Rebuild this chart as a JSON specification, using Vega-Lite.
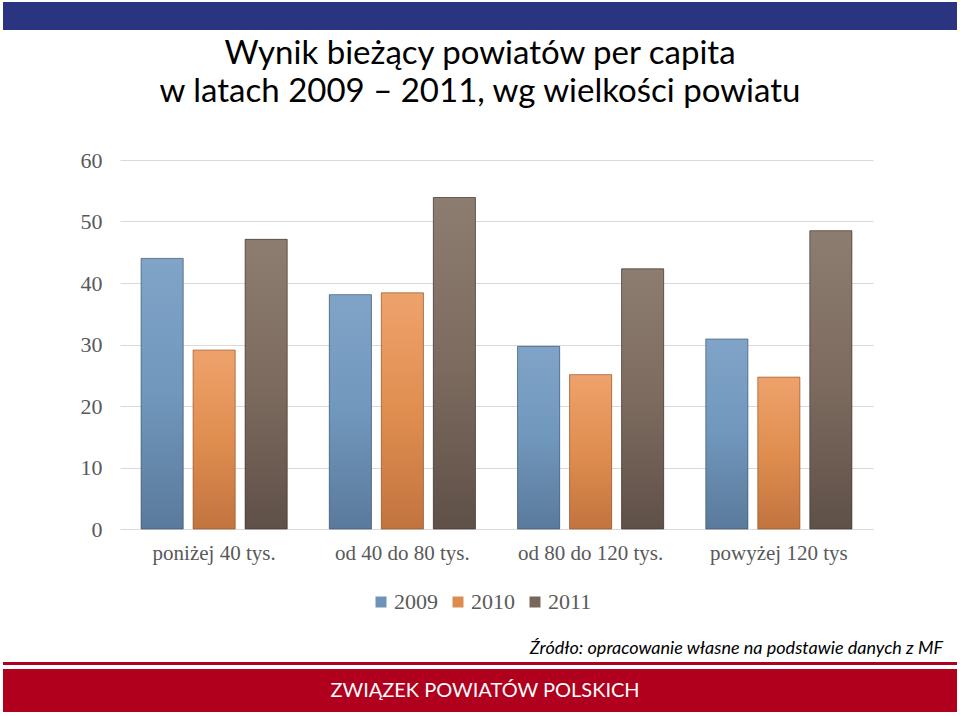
{
  "$schema": "https://vega.github.io/schema/vega-lite/v6.json",
  "background": "white",
  "padding": {"left": 3, "top": 2, "right": 3, "bottom": 3},
  "spacing": 8,
  "resolve": {"scale": {"color": "independent"}, "legend": {"color": "independent"}},
  "config": {"view": {"stroke": null}},
  "vconcat": [
    {
      "width": 954,
      "height": 28,
      "view": {"fill": "#2B3480", "stroke": null},
      "data": {"values": [{"t": ""}]},
      "mark": "text",
      "encoding": {"text": {"field": "t"}}
    },
    {
      "width": 954,
      "height": 369,
      "title": {
        "text": ["Wynik bieżący powiatów per capita", "w latach 2009 – 2011, wg wielkości powiatu"],
        "font": "Lato",
        "fontSize": 33,
        "fontWeight": "normal",
        "lineHeight": 38,
        "color": "#000000",
        "offset": 40,
        "dx": 0,
        "anchor": "middle"
      },
      "data": {
        "values": [
          {"grupa": "poniżej 40 tys.", "rok": "2009", "wartosc": 44.0},
          {"grupa": "poniżej 40 tys.", "rok": "2010", "wartosc": 29.1},
          {"grupa": "poniżej 40 tys.", "rok": "2011", "wartosc": 47.1},
          {"grupa": "od 40 do 80 tys.", "rok": "2009", "wartosc": 38.1},
          {"grupa": "od 40 do 80 tys.", "rok": "2010", "wartosc": 38.4},
          {"grupa": "od 40 do 80 tys.", "rok": "2011", "wartosc": 53.9},
          {"grupa": "od 80 do 120 tys.", "rok": "2009", "wartosc": 29.7},
          {"grupa": "od 80 do 120 tys.", "rok": "2010", "wartosc": 25.1},
          {"grupa": "od 80 do 120 tys.", "rok": "2011", "wartosc": 42.3},
          {"grupa": "powyżej 120 tys", "rok": "2009", "wartosc": 30.9},
          {"grupa": "powyżej 120 tys", "rok": "2010", "wartosc": 24.7},
          {"grupa": "powyżej 120 tys", "rok": "2011", "wartosc": 48.5}
        ]
      },
      "encoding": {
        "x": {
          "field": "grupa",
          "type": "nominal",
          "sort": null,
          "scale": {"range": [117, 870], "paddingInner": 0, "paddingOuter": 0},
          "axis": {
            "title": null,
            "labelAngle": 0,
            "labelFont": "Liberation Serif",
            "labelFontSize": 21,
            "labelColor": "#595959",
            "domain": false,
            "ticks": false,
            "labelPadding": 13
          }
        },
        "xOffset": {
          "field": "rok",
          "type": "nominal",
          "sort": null,
          "scale": {"paddingInner": 0.19, "paddingOuter": 0.405}
        },
        "y": {
          "field": "wartosc",
          "type": "quantitative",
          "scale": {"domain": [0, 60]},
          "axis": {
            "title": null,
            "values": [0, 10, 20, 30, 40, 50, 60],
            "domain": false,
            "ticks": false,
            "offset": -117,
            "minExtent": 0,
            "labelPadding": 18,
            "labelFont": "Liberation Serif",
            "labelFontSize": 22,
            "labelColor": "#595959",
            "gridColor": "#D9D9D9"
          }
        }
      },
      "layer": [
        {
          "mark": {"type": "bar"},
          "encoding": {
            "color": {
              "field": "rok",
              "type": "nominal",
              "scale": {"domain": ["2009", "2010", "2011"], "range": ["#6F93B7", "#DD8B4E", "#77665A"]},
              "legend": {
                "orient": "none",
                "legendX": 349,
                "legendY": 413,
                "padding": 18,
                "direction": "horizontal",
                "columns": 3,
                "gridAlign": "all",
                "title": null,
                "symbolType": "square",
                "symbolSize": 121,
                "symbolStrokeWidth": 0,
                "symbolOpacity": 1,
                "labelFont": "Liberation Serif",
                "labelFontSize": 22,
                "labelColor": "#595959",
                "labelOffset": 2,
                "columnPadding": 9
              }
            }
          }
        },
        {
          "transform": [{"filter": "datum.rok == '2009'"}],
          "mark": {"type": "bar", "stroke": "#3A4F66", "strokeOpacity": 0.6, "strokeWidth": 1,
            "color": {"gradient": "linear", "x1": 0, "y1": 0, "x2": 0, "y2": 1, "stops": [{"offset": 0, "color": "#80A4C8"}, {"offset": 0.5, "color": "#7097BC"}, {"offset": 1, "color": "#5A7A9B"}]}}
        },
        {
          "transform": [{"filter": "datum.rok == '2010'"}],
          "mark": {"type": "bar", "stroke": "#8A5028", "strokeOpacity": 0.6, "strokeWidth": 1,
            "color": {"gradient": "linear", "x1": 0, "y1": 0, "x2": 0, "y2": 1, "stops": [{"offset": 0, "color": "#EEA26B"}, {"offset": 0.5, "color": "#E08E50"}, {"offset": 1, "color": "#C2743F"}]}}
        },
        {
          "transform": [{"filter": "datum.rok == '2011'"}],
          "mark": {"type": "bar", "stroke": "#3F342D", "strokeOpacity": 0.6, "strokeWidth": 1,
            "color": {"gradient": "linear", "x1": 0, "y1": 0, "x2": 0, "y2": 1, "stops": [{"offset": 0, "color": "#8D7C70"}, {"offset": 0.5, "color": "#7D6B5F"}, {"offset": 1, "color": "#5F5048"}]}}
        }
      ]
    },
    {
      "spacing": 0,
      "vconcat": [
        {
          "width": 954,
          "height": 3,
          "view": {"fill": "#B0001E", "stroke": null},
          "title": {
            "text": "Źródło: opracowanie własne na podstawie danych z MF",
            "anchor": "end",
            "font": "Lato",
            "fontStyle": "italic",
            "fontSize": 18,
            "fontWeight": "normal",
            "color": "#000000",
            "offset": 0,
            "dx": -14
          },
          "data": {"values": [{"t": ""}]},
          "mark": "text",
          "encoding": {"text": {"field": "t"}}
        },
        {
          "width": 954,
          "height": 43,
          "view": {"fill": "#B0001E", "stroke": null},
          "data": {"values": [{"t": "ZWIĄZEK POWIATÓW POLSKICH"}]},
          "mark": {"type": "text", "font": "Lato", "fontSize": 20, "color": "#FFFFFF", "baseline": "middle", "dx": 5},
          "encoding": {"text": {"field": "t"}}
        }
      ]
    }
  ]
}
